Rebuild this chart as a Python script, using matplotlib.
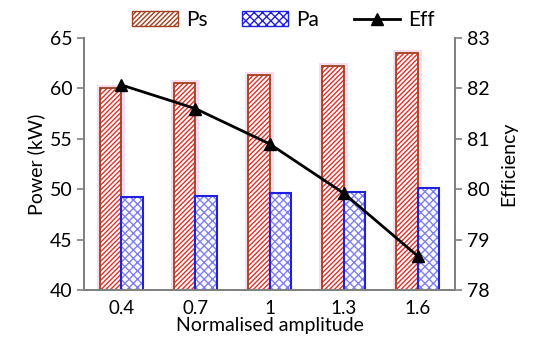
import matplotlib
matplotlib.use("Agg")
import matplotlib.pyplot as plt
import numpy as np
from matplotlib.lines import Line2D
from matplotlib.patches import Patch

plt.rcParams.update({
    "font.family": ["Lato", "DejaVu Sans"],
    "hatch.linewidth": 1.0,
})

amplitude = ["0.4", "0.7", "1", "1.3", "1.6"]
ps = [60.0, 60.5, 61.3, 62.2, 63.5]
pa = [49.2, 49.3, 49.6, 49.7, 50.1]
eff = [82.07, 81.6, 80.9, 79.92, 78.67]

GREY = "#808080"
PS_EDGE = "#A0401E"
PS_HATCH = "#E0302A"
PA_BLUE = "#2020E0"

fig = plt.figure(figsize=(5.5, 3.6), dpi=100)
ax = fig.add_axes([84 / 550, 70 / 360, 371 / 550, 252 / 360])
ax2 = ax.twinx()

x = np.arange(len(amplitude))
w = 0.29

# Ps bars: faint pink glow, red hatch, brown outline
ax.bar(x - w / 2, ps, w, color="none", edgecolor="#FADCEF",
       linewidth=5, zorder=1)
ax.bar(x - w / 2, ps, w, color="white", edgecolor=PS_HATCH, hatch="///////",
       linewidth=0, zorder=2)
ax.bar(x - w / 2, ps, w, color="none", edgecolor=PS_EDGE, linewidth=1.3,
       zorder=3)

# Pa bars
ax.bar(x + w / 2, pa, w, color="white", edgecolor="#8080F0", hatch="xxxx",
       linewidth=0, zorder=2)
ax.bar(x + w / 2, pa, w, color="none", edgecolor=PA_BLUE, linewidth=1.5,
       zorder=3)

ax.set_ylim(40, 65)
ax.set_yticks(np.arange(40, 66, 5))
ax.set_xlim(-0.5, len(amplitude) - 0.5)
ax.set_xticks(x)
ax.set_xticklabels(amplitude)

ax2.plot(x, eff, color="black", linewidth=2, marker="^", markersize=8,
         zorder=5)
ax2.set_ylim(78, 83)
ax2.set_yticks(np.arange(78, 84, 1))
ax.set_zorder(ax2.get_zorder() - 1)
ax.patch.set_visible(False)

for a in (ax, ax2):
    a.spines["top"].set_visible(False)
    for s in ("left", "right", "bottom"):
        a.spines[s].set_color(GREY)
        a.spines[s].set_linewidth(1.3)
    a.tick_params(axis="y", colors=GREY, labelcolor="black", labelsize=14,
                  length=5, width=1.2)
ax.tick_params(axis="x", length=0, labelsize=13.5, pad=7)

ax.set_xlabel("Normalised amplitude", fontsize=14, labelpad=0)
ax.set_ylabel("Power (kW)", fontsize=14, labelpad=3)
ax2.set_ylabel("Efficiency", fontsize=14, labelpad=8)

handles = [
    Patch(facecolor="white", edgecolor=PS_EDGE, hatch="///////", label="Ps"),
    Patch(facecolor="white", edgecolor=PA_BLUE, hatch="xxxx", label="Pa"),
    Line2D([], [], color="black", linewidth=2, marker="^", markersize=8,
           label="Eff"),
]
fig.legend(handles=handles, loc="center", bbox_to_anchor=(0.515, 0.945),
           ncol=3, frameon=False, fontsize=15, handlelength=2.2,
           columnspacing=1.65, handletextpad=0.4)

fig.savefig("out.png", dpi=100)
